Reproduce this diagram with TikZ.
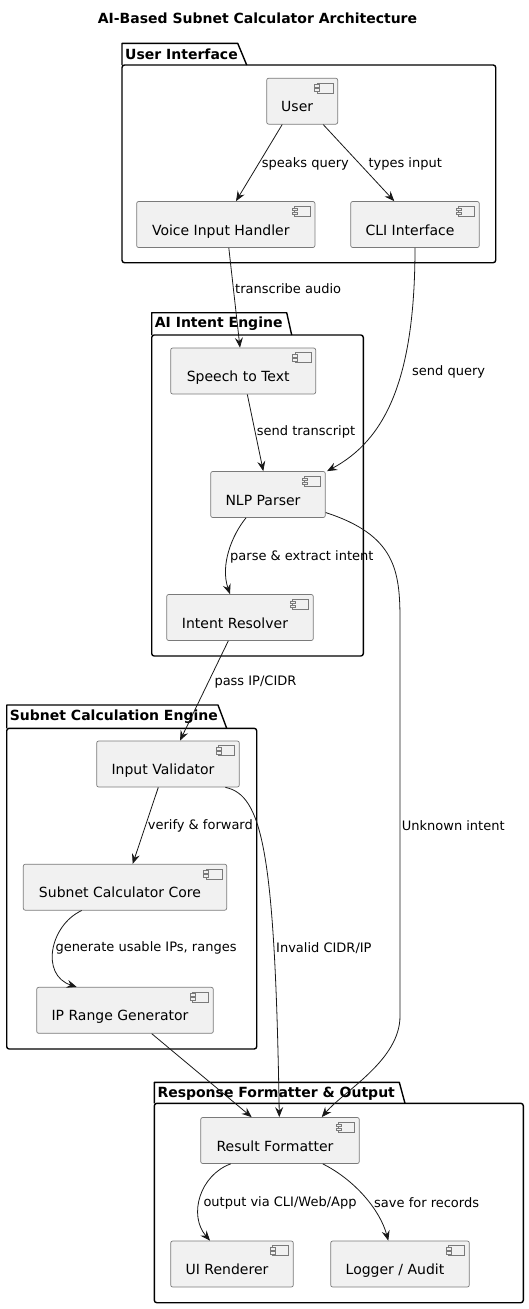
\documentclass[tikz,border=0pt]{standalone}
\usepackage{fontspec}
\setmainfont{DejaVu Sans}
\usetikzlibrary{arrows.meta}

\definecolor{comp_fill}{HTML}{F1F1F1}
\definecolor{comp_line}{HTML}{7A7A7A}
\definecolor{arr_line}{HTML}{181818}

\tikzset{comp_style/.style={rectangle, rounded corners=2pt, draw=comp_line, line width=0.7pt, fill=comp_fill, minimum height=46pt, text height=21pt, text depth=0pt, font=\fontsize{14}{16}\selectfont, execute at begin node={\hspace*{-10pt}}}}
\tikzset{icon_style/.style={draw=comp_line, line width=0.6pt, fill=comp_fill}}
\tikzset{pkg_style/.style={draw=black, line width=1.4pt}}
\tikzset{pkg_lbl_style/.style={anchor=west, inner sep=0pt, font=\fontsize{14}{16}\selectfont\bfseries}}
\tikzset{lbl_style/.style={anchor=west, inner sep=0pt, font=\fontsize{13}{15}\selectfont}}
\tikzset{arr_style/.style={draw=arr_line, line width=0.8pt, -{Stealth[length=10pt,width=8pt,inset=3.5pt]}}}

\begin{document}
\begin{tikzpicture}[x=1pt, y=-1pt]
    \useasboundingbox (0,0) rectangle (529,1309);

    \node[font=\fontsize{14}{16}\selectfont\bfseries] (title) at (257.5,18.3) {AI-Based Subnet Calculator Architecture};

    % packages
    \draw[pkg_style, line join=round] (122,65) -- (122,43.3) -- (237.7,43.3) -- (246.7,65);
    \draw[pkg_style, rounded corners=2.5pt] (122,65) rectangle (495.7,262.7);
    \node[pkg_lbl_style] (uipkg) at (125,53.8) {User Interface};

    \draw[pkg_style, line join=round] (151.7,335) -- (151.7,312.7) -- (286.7,312.7) -- (291.7,335);
    \draw[pkg_style, rounded corners=2.5pt] (151.7,335) rectangle (363.3,656);
    \node[pkg_lbl_style] (aipkg) at (154.7,323.6) {AI Intent Engine};

    \draw[pkg_style, line join=round] (6.7,728.3) -- (6.7,705) -- (218,705) -- (226.7,728.3);
    \draw[pkg_style, rounded corners=2.5pt] (6.7,728.3) rectangle (256.7,1049);
    \node[pkg_lbl_style] (subpkg) at (9.7,716.3) {Subnet Calculation Engine};

    \draw[pkg_style, line join=round] (154.3,1103.3) -- (154.3,1082.3) -- (399.3,1082.3) -- (405,1103.3);
    \draw[pkg_style, rounded corners=2.5pt] (154.3,1103.3) rectangle (523.3,1302.7);
    \node[pkg_lbl_style] (respkg) at (157.3,1093.3) {Response Formatter \& Output};

    % components
    \node[comp_style, minimum width=71pt] (user) at (302.2,101.2) {User};
    \node[comp_style, minimum width=178.3pt] (voice) at (225.8,224.5) {Voice Input Handler};
    \node[comp_style, minimum width=128.6pt] (cli) at (415,224.5) {CLI Interface};

    \node[comp_style, minimum width=145pt] (stt) at (243.2,371) {Speech to Text};
    \node[comp_style, minimum width=114.6pt] (nlp) at (268,494.5) {NLP Parser};
    \node[comp_style, minimum width=146.6pt] (resolver) at (240,617.5) {Intent Resolver};

    \node[comp_style, minimum width=142.6pt] (validator) at (168,764) {Input Validator};
    \node[comp_style, minimum width=203.4pt] (core) at (125,887.2) {Subnet Calculator Core};
    \node[comp_style, minimum width=176.6pt] (range) at (125,1010.3) {IP Range Generator};

    \node[comp_style, minimum width=158.6pt] (result) at (280,1140.5) {Result Formatter};
    \node[comp_style, minimum width=122.6pt] (ui) at (232,1264) {UI Renderer};
    \node[comp_style, minimum width=138.6pt] (logger) at (400,1264) {Logger / Audit};

    % component icons
    \foreach \n in {user,voice,cli,stt,nlp,resolver,validator,core,range,result,ui,logger} {
        \begin{scope}[shift={(\n.north east)}]
            \draw[icon_style] (-21,5) rectangle (-5,15);
            \draw[icon_style] (-23.5,6.8) rectangle (-18.5,9.2);
            \draw[icon_style] (-23.5,10.8) rectangle (-18.5,13.2);
        \end{scope}
    }

    % connectors
    \draw[arr_style] ([xshift=-20pt]user.south) -- ([xshift=10.2pt]voice.north);
    \draw[arr_style] ([xshift=21pt]user.south) -- ([xshift=-20.7pt]cli.north);
    \draw[arr_style] ([xshift=3pt]voice.south) -- ([xshift=-3.2pt]stt.north);
    \draw[arr_style] (cli.south) .. controls (415,380) and (385,440) .. ([xshift=1.4pt]nlp.north east);
    \draw[arr_style] ([xshift=4.1pt]stt.south) -- ([xshift=-4.7pt]nlp.north);
    \draw[arr_style] ([xshift=-22pt]nlp.south) .. controls (232,535) and (220,565) .. ([xshift=-10pt]resolver.north);
    \draw[arr_style] ([yshift=5.3pt]nlp.south east) .. controls (395,535) and (400,570) .. (400,620) -- (400,1016) .. controls (400,1060) and (345,1090) .. ([xshift=41.7pt]result.north);
    \draw[arr_style] ([xshift=-11.7pt]resolver.south) -- ([xshift=12pt]validator.north);
    \draw[arr_style] ([xshift=-9.7pt]validator.south) -- ([xshift=7.7pt]core.north);
    \draw[arr_style] ([xshift=-14.3pt]validator.south east) .. controls (262,795) and (275,850) .. ([xshift=-0.7pt]result.north);
    \draw[arr_style] ([xshift=-43.3pt]core.south) .. controls (50,925) and (40,975) .. ([xshift=-48.3pt]range.north);
    \draw[arr_style] ([xshift=26.7pt]range.south) -- ([xshift=-28.3pt]result.north);
    \draw[arr_style] ([xshift=-49.3pt]result.south) .. controls (200,1175) and (188,1215) .. ([xshift=-22pt]ui.north);
    \draw[arr_style] ([xshift=42.7pt]result.south) .. controls (355,1180) and (380,1210) .. ([xshift=-11.7pt]logger.north);

    % connector labels
    \node[lbl_style] (l_speaks) at (261.7,164) {speaks query};
    \node[lbl_style] (l_types) at (368.3,164) {types input};
    \node[lbl_style] (l_transcribe) at (235,288.3) {transcribe audio};
    \node[lbl_style] (l_query) at (412,371.7) {send query};
    \node[lbl_style] (l_transcript) at (256.7,432.3) {send transcript};
    \node[lbl_style] (l_parse) at (230,556.7) {parse \& extract intent};
    \node[lbl_style] (l_pass) at (214.3,681.7) {pass IP/CIDR};
    \node[lbl_style] (l_verify) at (147.7,825.7) {verify \& forward};
    \node[lbl_style] (l_unknown) at (401.7,825.3) {Unknown intent};
    \node[lbl_style] (l_generate) at (55.3,948.3) {generate usable IPs, ranges};
    \node[lbl_style] (l_invalid) at (276,948.3) {Invalid CIDR/IP};
    \node[lbl_style] (l_output) at (203.3,1202.7) {output via CLI/Web/App};
    \node[lbl_style] (l_save) at (374,1202.7) {save for records};

\end{tikzpicture}
\end{document}
